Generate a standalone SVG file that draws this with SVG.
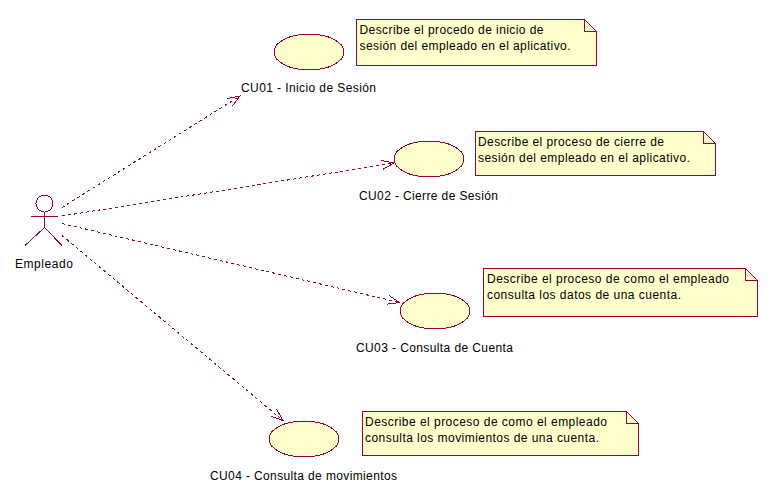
<svg xmlns="http://www.w3.org/2000/svg" width="783" height="502" viewBox="0 0 783 502">
<style>
.bg{fill:#fff}
.uc,.note{fill:#ffffcb;stroke:#990033;stroke-width:1;shape-rendering:crispEdges}
.line{fill:none;stroke:#990033;stroke-width:1;shape-rendering:crispEdges}
.dash{stroke-dasharray:3 3}
text{font-family:"Liberation Sans",Arial,sans-serif;font-size:12px;fill:#000}
</style>
<defs>
<marker id="open" markerUnits="userSpaceOnUse" markerWidth="14" markerHeight="14" refX="13" refY="7" orient="auto" viewBox="0 0 14 14">
<path d="M1 2.500L13 7L1 11.500" fill="none" stroke="#990033" stroke-width="1" shape-rendering="crispEdges"/>
</marker>
</defs>
<rect class="bg" width="783" height="502"/>
<g id="connectors">
<line class="line dash" x1="62" y1="207.500" x2="240" y2="96" marker-end="url(#open)"/>
<line class="line dash" x1="62" y1="216" x2="394" y2="163" marker-end="url(#open)"/>
<line class="line dash" x1="62" y1="223.500" x2="399.500" y2="302.500" marker-end="url(#open)"/>
<line class="line dash" x1="62" y1="235.500" x2="283" y2="420.500" marker-end="url(#open)"/>
</g>
<g id="actor">
<circle class="line" cx="44.500" cy="203.500" r="8.500"/>
<path class="line" d="M31 216.500H58M44.500 212.500V227.500M44.500 227.500L25 245.500M44.500 227.500L62 245.500"/>
<text x="15" y="268" textLength="58" lengthAdjust="spacing">Empleado</text>
</g>
<g id="cu01">
<ellipse class="uc" cx="309" cy="52" rx="35" ry="18"/>
<text x="241" y="92" textLength="135" lengthAdjust="spacing">CU01 - Inicio de Sesión</text>
</g>
<g id="note1">
<path class="note" d="M356.500 19.500H584.500L596.500 31.500V65.500H356.500Z"/>
<path class="line" d="M584.500 19.500V31.500H596.500"/>
<text x="359.500" y="34" textLength="184" lengthAdjust="spacing">Describe el procedo de inicio de</text>
<text x="359.500" y="50" textLength="211" lengthAdjust="spacing">sesión del empleado en el aplicativo.</text>
</g>
<g id="cu02">
<ellipse class="uc" cx="429" cy="159" rx="35" ry="18"/>
<text x="359" y="200" textLength="139" lengthAdjust="spacing">CU02 - Cierre de Sesión</text>
</g>
<g id="note2">
<path class="note" d="M475.500 131.500H703.500L715.500 143.500V175.500H475.500Z"/>
<path class="line" d="M703.500 131.500V143.500H715.500"/>
<text x="478" y="146" textLength="186" lengthAdjust="spacing">Describe el proceso de cierre de</text>
<text x="478" y="162" textLength="212" lengthAdjust="spacing">sesión del empleado en el aplicativo.</text>
</g>
<g id="cu03">
<ellipse class="uc" cx="435" cy="311" rx="35" ry="18"/>
<text x="356" y="352" textLength="157" lengthAdjust="spacing">CU03 - Consulta de Cuenta</text>
</g>
<g id="note3">
<path class="note" d="M483.500 268.500H745.500L757.500 280.500V316.500H483.500Z"/>
<path class="line" d="M745.500 268.500V280.500H757.500"/>
<text x="487" y="283" textLength="242" lengthAdjust="spacing">Describe el proceso de como el empleado</text>
<text x="487" y="299" textLength="194" lengthAdjust="spacing">consulta los datos de una cuenta.</text>
</g>
<g id="cu04">
<ellipse class="uc" cx="304" cy="439" rx="35" ry="18"/>
<text x="210" y="480" textLength="187" lengthAdjust="spacing">CU04 - Consulta de movimientos</text>
</g>
<g id="note4">
<path class="note" d="M362.500 411.500H626.500L638.500 423.500V455.500H362.500Z"/>
<path class="line" d="M626.500 411.500V423.500H638.500"/>
<text x="365" y="426" textLength="242" lengthAdjust="spacing">Describe el proceso de como el empleado</text>
<text x="365" y="442" textLength="234" lengthAdjust="spacing">consulta los movimientos de una cuenta.</text>
</g>
</svg>
